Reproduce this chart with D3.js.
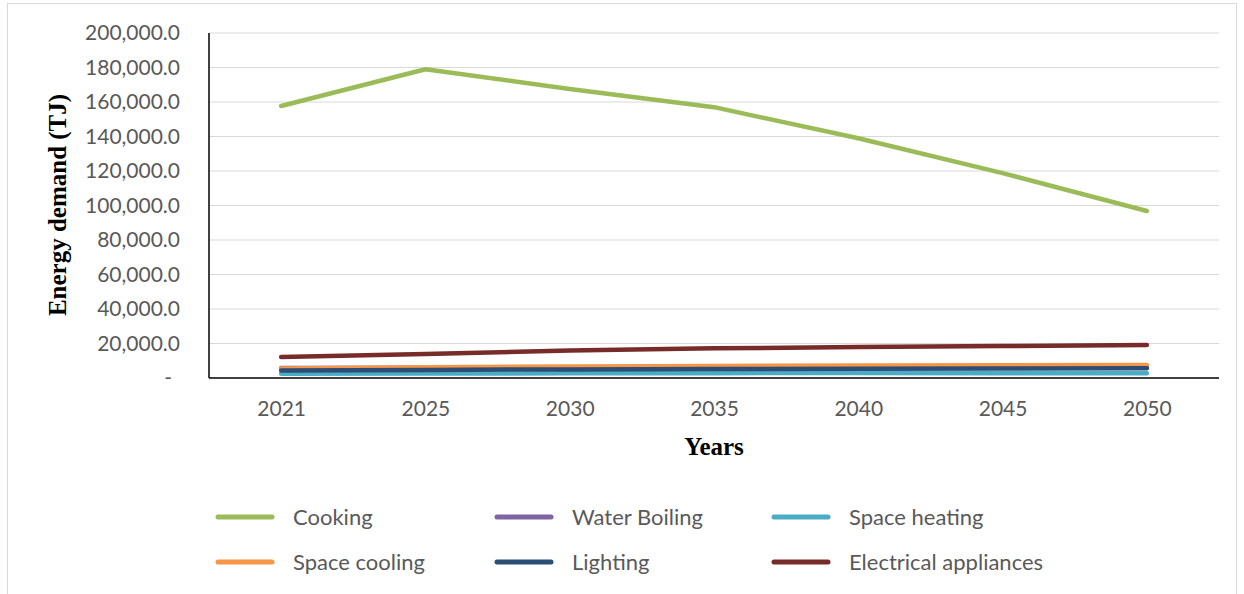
<!DOCTYPE html>
<html>
<head>
<meta charset="utf-8">
<script src="https://cdn.jsdelivr.net/npm/d3@7"></script>
<style>
  html, body { margin: 0; padding: 0; background: #ffffff; }
  svg { display: block; }
</style>
</head>
<body>
<svg id="chart" width="1244" height="594"></svg>
<script>
// Residential energy demand by end use (TJ)
const years = ["2021", "2025", "2030", "2035", "2040", "2045", "2050"];
const seriesNames = ["Cooking", "Water Boiling", "Space heating", "Space cooling", "Lighting", "Electrical appliances"];
const seriesColors = ["#9bbb59", "#8064a2", "#4bacc6", "#f79646", "#2c4d75", "#772c2a"];

const cooking = [157700, 179000, 167500, 157000, 139000, 118800, 96800];
const waterBoiling = [5800, 5900, 5900, 5900, 5900, 5900, 5900];
const spaceHeating = [2500, 2600, 2700, 2800, 2900, 2800, 2700];
const spaceCooling = [5500, 6200, 6700, 7000, 7200, 7400, 7500];
const lighting = [4300, 4700, 5000, 5200, 5400, 5500, 5600];
const electricalAppliances = [12200, 13900, 16000, 17200, 17900, 18500, 19100];

const yTicks = [0, 20000, 40000, 60000, 80000, 100000, 120000, 140000, 160000, 180000, 200000];

const seriesValues = [cooking, waterBoiling, spaceHeating, spaceCooling, lighting, electricalAppliances];
const series = seriesNames.map((name, i) => ({
  name,
  color: seriesColors[i],
  values: seriesValues[i].map((v, j) => ({ year: years[j], value: v }))
}));

const svg = d3.select("#chart");
const plot = { left: 209, right: 1219, top: 33, bottom: 378 };
const labelFont = "Lato, 'Open Sans', sans-serif";

// outer chart frame
svg.append("rect")
  .attr("x", 7.5).attr("y", 3.5)
  .attr("width", 1229).attr("height", 620)
  .attr("fill", "none").attr("stroke", "#d9d9d9").attr("stroke-width", 1);

const x = d3.scalePoint().domain(years).range([plot.left, plot.right]).padding(0.5);
const y = d3.scaleLinear().domain([0, 200000]).range([plot.bottom, plot.top]);

// horizontal gridlines
svg.append("g")
  .selectAll("line")
  .data(yTicks.filter(t => t > 0))
  .join("line")
  .attr("x1", plot.left).attr("x2", plot.right)
  .attr("y1", d => y(d)).attr("y2", d => y(d))
  .attr("stroke", "#d9d9d9").attr("stroke-width", 1.2);

// y axis labels
const fmt = d3.format(",.1f");
const yAxis = svg.append("g")
  .attr("transform", `translate(${plot.left},0)`)
  .call(d3.axisLeft(y).tickValues(yTicks).tickSize(0).tickPadding(29)
    .tickFormat(d => d === 0 ? "-" : fmt(d)));
yAxis.select(".domain").remove();
yAxis.selectAll("text")
  .attr("fill", "#595959")
  .style("font-family", labelFont)
  .style("font-size", "21px");
yAxis.selectAll(".tick").filter(d => d === 0).select("text").attr("x", -37);

// x axis labels
const xAxis = svg.append("g")
  .attr("transform", `translate(0,${plot.bottom})`)
  .call(d3.axisBottom(x).tickSize(0).tickPadding(23));
xAxis.select(".domain").remove();
xAxis.selectAll("text")
  .attr("fill", "#595959")
  .style("font-family", labelFont)
  .style("font-size", "21px");

// series lines
const line = d3.line().x(d => x(d.year)).y(d => y(d.value));
svg.append("g")
  .selectAll("path")
  .data(series)
  .join("path")
  .attr("d", d => line(d.values))
  .attr("fill", "none")
  .attr("stroke", d => d.color)
  .attr("stroke-width", 4.5)
  .attr("stroke-linecap", "round")
  .attr("stroke-linejoin", "round");

// axis lines
svg.append("line")
  .attr("x1", plot.left).attr("x2", plot.left)
  .attr("y1", plot.top).attr("y2", plot.bottom)
  .attr("stroke", "#000").attr("stroke-width", 1.5);
svg.append("line")
  .attr("x1", plot.left).attr("x2", plot.right)
  .attr("y1", plot.bottom).attr("y2", plot.bottom)
  .attr("stroke", "#000").attr("stroke-width", 1.5);

// axis titles
svg.append("text")
  .attr("transform", `translate(66,205) rotate(-90)`)
  .attr("text-anchor", "middle")
  .style("font-family", "'Liberation Serif', 'Times New Roman', serif")
  .style("font-weight", "bold")
  .style("font-size", "25px")
  .attr("fill", "#000")
  .text("Energy demand (TJ)");

svg.append("text")
  .attr("x", (plot.left + plot.right) / 2)
  .attr("y", 455)
  .attr("text-anchor", "middle")
  .style("font-family", "'Liberation Serif', 'Times New Roman', serif")
  .style("font-weight", "bold")
  .style("font-size", "25px")
  .attr("fill", "#000")
  .text("Years");

// legend
const legendCols = [218, 497, 774];
const legendRows = [517, 562];
const legend = svg.append("g")
  .selectAll("g")
  .data(series)
  .join("g")
  .attr("transform", (d, i) => `translate(${legendCols[i % 3]},${legendRows[Math.floor(i / 3)]})`);
legend.append("line")
  .attr("x1", 0).attr("x2", 54)
  .attr("y1", 0).attr("y2", 0)
  .attr("stroke", d => d.color)
  .attr("stroke-width", 5)
  .attr("stroke-linecap", "round");
legend.append("text")
  .attr("x", 75).attr("y", 0)
  .attr("dy", "0.35em")
  .attr("fill", "#595959")
  .style("font-family", labelFont)
  .style("font-size", "22px")
  .text(d => d.name);
</script>
</body>
</html>
